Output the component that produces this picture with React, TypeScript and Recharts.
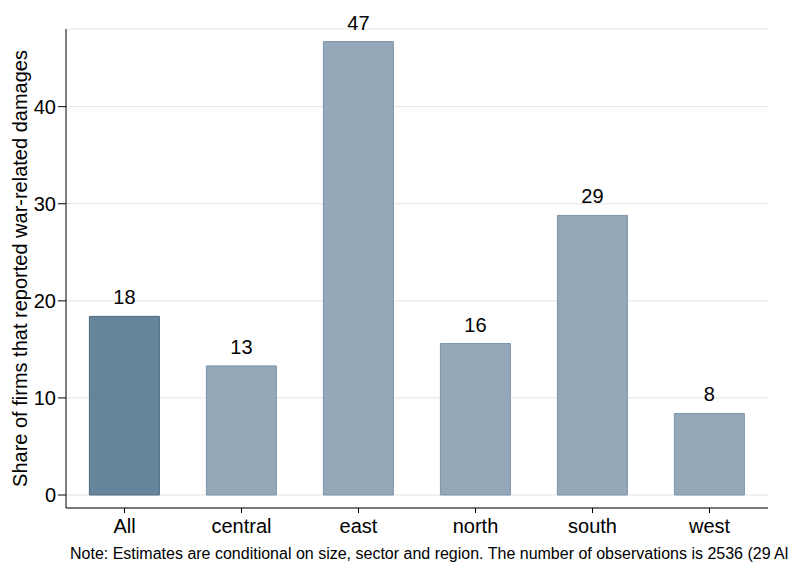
import React from "react";
import {
  BarChart,
  Bar,
  XAxis,
  YAxis,
  CartesianGrid,
  Cell,
  LabelList,
} from "recharts";

const regions = ["All", "central", "east", "north", "south", "west"];
const shares = [18.4, 13.3, 46.7, 15.6, 28.8, 8.4];
const yTicks = [0, 10, 20, 30, 40];

const data = regions.map((name, i) => ({ name, share: shares[i] }));

const FONT = "'Liberation Sans', Arial, sans-serif";

export default function App() {
  return (
    <div
      style={{
        position: "absolute",
        left: 0,
        top: 0,
        width: 788,
        height: 563,
        background: "#fff",
        fontFamily: FONT,
        overflow: "hidden",
      }}
    >
      <BarChart
        width={788}
        height={563}
        data={data}
        margin={{ top: 29, right: 20, bottom: 25, left: 24 }}
        barCategoryGap="20%"
      >
        <CartesianGrid vertical={false} stroke="#e4e4e4" strokeWidth={1} />
        <XAxis
          dataKey="name"
          stroke="#000"
          tickLine={{ stroke: "#000" }}
          tickSize={5}
          tick={{ fill: "#000", fontSize: 20, fontFamily: FONT }}
          tickMargin={6}
          height={30}
        />
        <YAxis
          domain={[0, 48]}
          ticks={yTicks}
          width={42}
          padding={{ bottom: 13 }}
          stroke="#000"
          tickLine={{ stroke: "#000" }}
          tickSize={8}
          tick={{ fill: "#000", fontSize: 20, fontFamily: FONT }}
          tickMargin={2}
          label={{
            value: "Share of firms that reported war-related damages",
            angle: -90,
            position: "insideLeft",
            dx: -9,
            dy: 0,
            style: {
              textAnchor: "middle",
              fontSize: 20,
              fill: "#000",
              fontFamily: FONT,
            },
          }}
        />
        <Bar dataKey="share" isAnimationActive={false} strokeWidth={1}>
          {data.map((d, i) => (
            <Cell
              key={d.name}
              fill={i === 0 ? "#66849a" : "#95a8b9"}
              stroke={i === 0 ? "#4e6c83" : "#7d93a8"}
            />
          ))}
          <LabelList
            dataKey="share"
            position="top"
            offset={12}
            formatter={(v: any) => Math.round(Number(v))}
            style={{ fontSize: 20, fill: "#000", fontFamily: FONT }}
          />
        </Bar>
      </BarChart>
      <div
        style={{
          position: "absolute",
          left: 70,
          top: 545,
          width: 718,
          overflow: "hidden",
          fontSize: 16,
          color: "#000",
          whiteSpace: "nowrap",
        }}
      >
        Note: Estimates are conditional on size, sector and region. The number
        of observations is 2536 (29 All firms).
      </div>
    </div>
  );
}
